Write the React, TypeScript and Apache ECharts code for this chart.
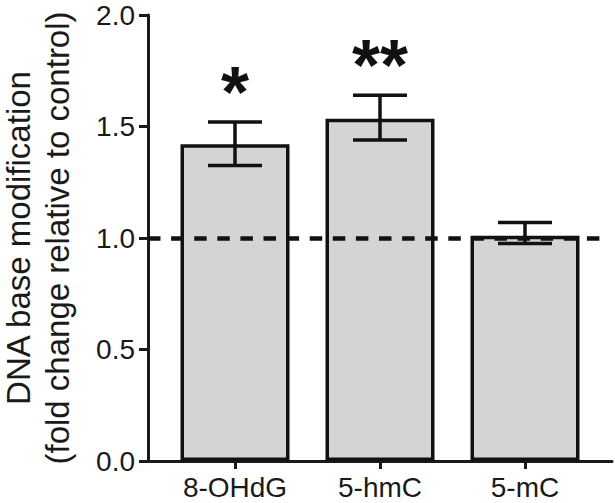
import React, { useEffect, useRef } from "react";
import * as echarts from "echarts";

const categories = ["8-OHdG", "5-hmC", "5-mC"];
const meanValues = [1.42, 1.535, 1.01];
const errLow = [1.325, 1.44, 0.975];
const errHigh = [1.52, 1.64, 1.07];
const sigMarks = ["*", "**", ""];
const yTicks = [0, 0.5, 1.0, 1.5, 2.0];
const referenceValue = 1.0;

const FONT = "'Liberation Sans', Arial, Helvetica, sans-serif";
const INK = "#1a1a1a";

export default function App() {
  const ref = useRef<HTMLDivElement>(null);
  useEffect(() => {
    if (!ref.current) return;
    const chart = echarts.init(ref.current, null, { renderer: "svg" });
    const idx = categories.map((_, i) => i);
    chart.setOption({
      animation: false,
      backgroundColor: "#ffffff",
      grid: {
        left: 148,
        right: 3,
        top: 15,
        bottom: 42,
        containLabel: false,
        outerBoundsMode: "none",
      },
      xAxis: {
        type: "value",
        min: -0.6,
        max: 2.6,
        splitLine: { show: false },
        axisLine: { show: true, onZero: false, lineStyle: { color: INK, width: 3 } },
        axisTick: {
          show: true,
          customValues: idx,
          length: 8,
          lineStyle: { color: INK, width: 3 },
        },
        axisLabel: {
          customValues: idx,
          formatter: (v: number) => categories[Math.round(v)] ?? "",
          fontFamily: FONT,
          fontSize: 28,
          color: INK,
          margin: 12,
        },
      },
      yAxis: {
        type: "value",
        min: yTicks[0],
        max: yTicks[yTicks.length - 1],
        interval: 0.5,
        splitLine: { show: false },
        axisLine: { show: true, onZero: false, lineStyle: { color: INK, width: 3 } },
        axisTick: { show: true, length: 9, lineStyle: { color: INK, width: 3 } },
        axisLabel: {
          formatter: (v: number) => v.toFixed(1),
          fontFamily: FONT,
          fontSize: 28,
          color: INK,
          margin: 13,
        },
        name: "DNA base modification\n(fold change relative to control)",
        nameLocation: "middle",
        nameGap: 71,
        nameTextStyle: {
          fontFamily: FONT,
          fontSize: 33,
          lineHeight: 39,
          color: INK,
        },
      },
      series: [
        {
          type: "bar",
          data: idx.map((i) => [i, meanValues[i]]),
          barWidth: 109,
          itemStyle: { color: "#d4d4d4", borderColor: "#111111", borderWidth: 3.5 },
          z: 2,
          markLine: {
            silent: true,
            symbol: "none",
            label: { show: false },
            lineStyle: { color: "#111111", type: [12.5, 10.6], width: 4.5 },
            data: [[{ coord: [-0.6, referenceValue] }, { coord: [2.52, referenceValue] }]],
            z: 5,
          },
        },
        {
          type: "custom",
          data: idx.map((i) => [i, errLow[i], errHigh[i]]),
          encode: { x: 0, y: [1, 2] },
          z: 4,
          clip: false,
          renderItem: (params: any, api: any) => {
            const i = params.dataIndex;
            const x = api.value(0);
            const pHi = api.coord([x, api.value(2)]);
            const pLo = api.coord([x, api.value(1)]);
            const hw = 27;
            const lw = 3.5;
            const fill = { fill: "#111111" };
            const children: any[] = [
              { type: "rect", shape: { x: pHi[0] - lw / 2, y: pHi[1], width: lw, height: pLo[1] - pHi[1] }, style: fill },
              { type: "rect", shape: { x: pHi[0] - hw, y: pHi[1] - lw / 2, width: hw * 2, height: lw }, style: fill },
              { type: "rect", shape: { x: pLo[0] - hw, y: pLo[1] - lw / 2, width: hw * 2, height: lw }, style: fill },
            ];
            if (sigMarks[i]) {
              children.push({
                type: "text",
                x: pHi[0],
                y: pHi[1] + 6,
                style: {
                  text: sigMarks[i],
                  fill: "#111111",
                  font: `bold 72px ${FONT}`,
                  align: "center",
                  verticalAlign: "bottom",
                },
              });
            }
            return { type: "group", children };
          },
        },
      ],
    });
    return () => chart.dispose();
  }, []);
  return (
    <div
      ref={ref}
      style={{ position: "fixed", left: 0, top: 0, width: 615, height: 503 }}
    />
  );
}
